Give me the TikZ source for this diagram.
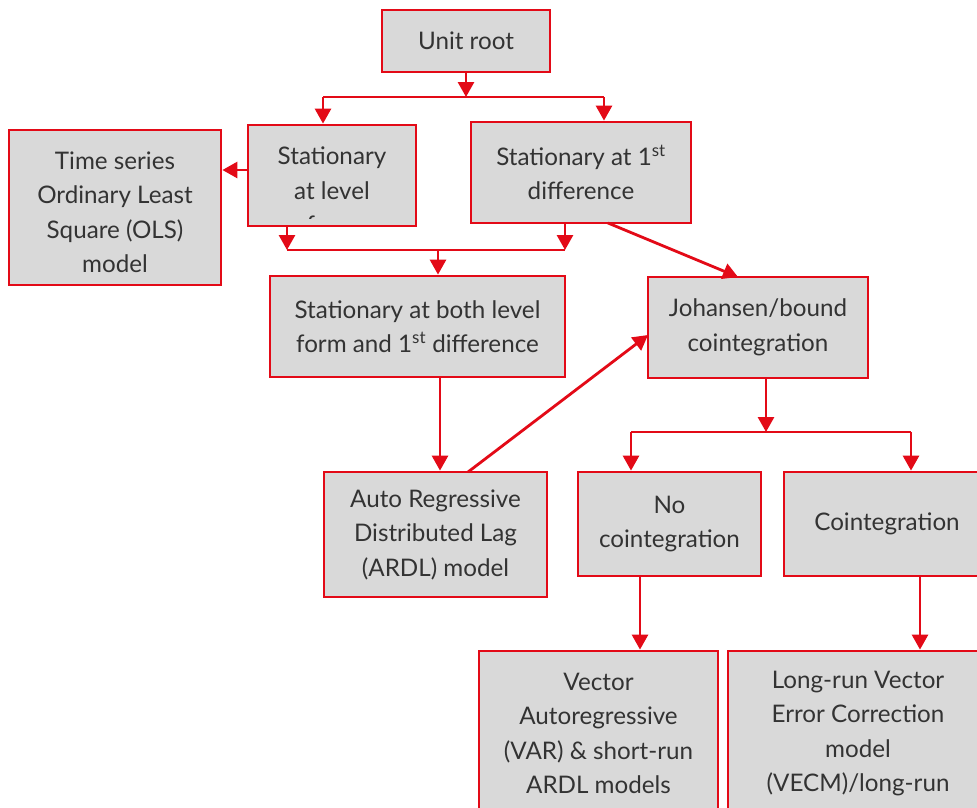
\documentclass[tikz,border=0pt]{standalone}
\usepackage{fontspec}
\setmainfont{Lato}
\usetikzlibrary{arrows.meta}
\definecolor{bred}{HTML}{E30A17}
\definecolor{bfill}{HTML}{D9D9D9}
\definecolor{btext}{HTML}{333333}
\tikzset{
  txt/.style={inner sep=0pt, align=center, text=btext, font=\fontsize{24.2}{34.5}\selectfont},
  box/.style={txt, draw=bred, line width=2.8pt, fill=bfill},
  link/.style={draw=bred, line width=2.8pt, -{Triangle[width=16pt,length=15pt]}},
  plain/.style={draw=bred, line width=2.8pt},
}
\begin{document}
\begin{tikzpicture}[x=1pt,y=-1pt]
\useasboundingbox (0,0) rectangle (977,807);
\clip (0,0) rectangle (977,807);
\fill[white] (0,0) rectangle (977,807);
\node[box, minimum width=168pt, minimum height=62pt] (unit) at (466,41) {Unit root};
\node[box, minimum width=168pt, minimum height=101pt] (lev) at (332,175.5) {};
\begin{scope}
  \clip (250,127) rectangle (414,218);
  \node[txt] (levt) at (332,190.5) {Stationary\\at level\\form};
\end{scope}
\node[box, minimum width=220pt, minimum height=101pt] (diff) at (581,172.5) {Stationary at 1\textsuperscript{st}\\difference};
\node[box, minimum width=212pt, minimum height=155pt] (ols) at (115,207.5) {};
\node[txt, yshift=-4.5pt] (olst) at (ols.center) {Time series\\Ordinary Least\\Square (OLS)\\model};
\node[box, minimum width=295pt, minimum height=101pt] (both) at (417.5,326.5) {Stationary at both level\\form and 1\textsuperscript{st} difference};
\node[box, minimum width=220pt, minimum height=101pt] (joh) at (758,327.5) {Johansen/bound\\cointegration};
\node[box, minimum width=223pt, minimum height=125pt] (ardl) at (435.5,534.5) {Auto Regressive\\Distributed Lag\\(ARDL) model};
\node[box, minimum width=183pt, minimum height=104pt] (noco) at (669.5,524) {No\\cointegration};
\node[box, minimum width=206pt, minimum height=104pt] (coin) at (887,524) {Cointegration};
\node[box, minimum width=239pt, minimum height=165pt] (var) at (598.5,733.5) {Vector\\Autoregressive\\(VAR) \& short-run\\ARDL models};
\node[box, minimum width=260pt, minimum height=165pt] (lrun) at (858,733.5) {Long-run Vector\\Error Correction\\model\\(VECM)/long-run};
% unit root split
\coordinate (j1) at (466,97);
\coordinate (j1l) at (323,97);
\coordinate (j1r) at (604,97);
\draw[link] (unit.south) -- (j1);
\draw[plain] (j1l) -- (j1r);
\draw[link] (j1l) -- (j1l |- lev.north);
\draw[link] (j1r) -- (j1r |- diff.north);
% level -> OLS
\coordinate (levw) at (248,170);
\draw[link] (levw) -- (levw -| ols.east);
% merge to both
\coordinate (j2l) at (287,250);
\coordinate (j2r) at (565,250);
\coordinate (j2) at (438,250);
\draw[link] (j2l |- lev.south) -- (j2l);
\draw[link] (j2r |- diff.south) -- (j2r);
\draw[plain] (j2l) -- (j2r);
\draw[link] (j2) -- (j2 |- both.north);
% diff -> johansen
\coordinate (d1) at (608,223);
\coordinate (d2) at (738,277);
\draw[link] (d1) -- (d2);
% both -> ardl
\coordinate (b1) at (440,377);
\draw[link] (b1) -- (b1 |- ardl.north);
% ardl -> johansen
\coordinate (a1) at (468,472);
\coordinate (a2) at (648,335);
\draw[link] (a1) -- (a2);
% johansen split
\coordinate (j3) at (766,432);
\coordinate (j3l) at (631,432);
\coordinate (j3r) at (911,432);
\draw[link] (j3 |- joh.south) -- (j3);
\draw[plain] (j3l) -- (j3r);
\draw[link] (j3l) -- (j3l |- noco.north);
\draw[link] (j3r) -- (j3r |- coin.north);
% to bottom
\coordinate (n1) at (640,576);
\coordinate (c1) at (920,576);
\draw[link] (n1) -- (n1 |- var.north);
\draw[link] (c1) -- (c1 |- lrun.north);
\end{tikzpicture}
\end{document}
